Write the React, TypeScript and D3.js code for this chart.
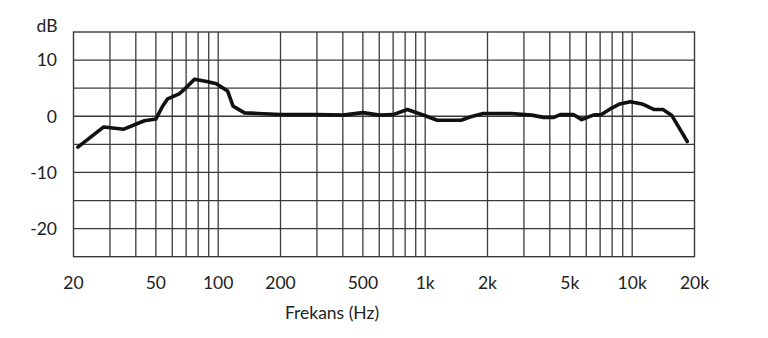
import React from "react";
import * as d3 from "d3";

const freqs = [21, 28, 35, 44, 50, 53.7, 57, 64.8, 70, 76.8, 88, 98, 111, 118, 134, 156, 200, 300, 400, 500, 600, 700, 820, 1000, 1143, 1491, 1660, 1910, 2270, 2600, 3270, 3735, 4180, 4490, 5200, 5700, 6480, 7100, 8000, 8720, 9800, 11170, 12790, 14080, 15500, 18450];
const levels = [-5.5, -1.9, -2.3, -0.8, -0.5, 1.7, 3.1, 4.0, 5.1, 6.6, 6.2, 5.8, 4.5, 1.8, 0.6, 0.5, 0.3, 0.3, 0.2, 0.65, 0.2, 0.3, 1.2, 0.1, -0.7, -0.7, -0.1, 0.5, 0.5, 0.5, 0.2, -0.2, -0.2, 0.3, 0.3, -0.6, 0.2, 0.3, 1.5, 2.2, 2.6, 2.2, 1.2, 1.2, 0.2, -4.5];

const xGridFreqs = [30, 40, 50, 60, 70, 80, 90, 100, 200, 300, 400, 500, 600, 700, 800, 900, 1000, 2000, 3000, 4000, 5000, 6000, 7000, 8000, 9000, 10000];
const yGridValues = [-20, -15, -10, -5, 0, 5, 10];
const xTickFreqs = [20, 50, 100, 200, 500, 1000, 2000, 5000, 10000, 20000];
const xTickLabels = ["20", "50", "100", "200", "500", "1k", "2k", "5k", "10k", "20k"];
const yTickValues = [10, 0, -10, -20];
const yTickLabels = ["10", "0", "-10", "-20"];

export default function App() {
  const W = 768, H = 338;
  const x = d3.scaleLog().domain([20, 20000]).range([73.5, 694.5]);
  const y = d3.scaleLinear().domain([-25, 15]).range([256.7, 32]);
  const data = freqs.map((f, i) => [f, levels[i]] as [number, number]);
  const line = d3.line<[number, number]>().x(d => x(d[0])).y(d => y(d[1]));
  const font = "Lato, 'Open Sans', sans-serif";
  const fs = 17.5;
  const gridColor = "#3a3a3a";
  return (
    <svg width={W} height={H} style={{ position: "absolute", left: 0, top: 0 }}>
      <rect width={W} height={H} fill="#fff" />
      {yGridValues.map(v => (
        <line key={"h" + v} x1={x(20)} x2={x(20000)} y1={y(v)} y2={y(v)} stroke={gridColor} strokeWidth={1.3} />
      ))}
      {xGridFreqs.map(f => (
        <line key={"v" + f} x1={x(f)} x2={x(f)} y1={y(15)} y2={y(-25)} stroke={gridColor} strokeWidth={1.3} />
      ))}
      <rect x={x(20)} y={y(15)} width={x(20000) - x(20)} height={y(-25) - y(15)} fill="none" stroke={gridColor} strokeWidth={1.4} />
      <path d={line(data) || ""} fill="none" stroke="#111" strokeWidth={3.6} strokeLinejoin="round" strokeLinecap="round" />
      {yTickValues.map((v, i) => (
        <text key={"yt" + v} x={57} y={y(v)} dy="0.36em" textAnchor="end" fontFamily={font} fontSize={fs} fill="#222">{yTickLabels[i]}</text>
      ))}
      <text x={47} y={26} dy="0.36em" textAnchor="middle" fontFamily={font} fontSize={fs} fill="#222">dB</text>
      {xTickFreqs.map((f, i) => (
        <text key={"xt" + f} x={x(f)} y={283} dy="0.36em" textAnchor="middle" fontFamily={font} fontSize={fs} fill="#222">{xTickLabels[i]}</text>
      ))}
      <text x={332} y={313} dy="0.36em" textAnchor="middle" fontFamily={font} fontSize={fs} fill="#222">Frekans (Hz)</text>
    </svg>
  );
}
